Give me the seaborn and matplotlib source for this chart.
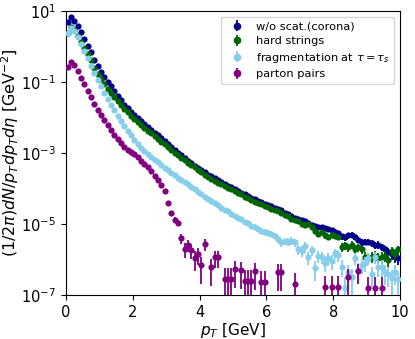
import numpy as np
import pandas as pd
import matplotlib
matplotlib.use("Agg")
import matplotlib.pyplot as plt
import matplotlib.ticker as mticker
import seaborn as sns

# ---------------- data (log10 of the yield) ----------------
pt_bins = [round(0.05 + 0.1 * i, 2) for i in range(100)]  # bin centres [GeV]

log_corona = [0.69, 0.83, 0.72, 0.57, 0.40, 0.21, 0.01, -0.17, -0.38, -0.56,
              -0.71, -0.86, -1.00, -1.13, -1.27, -1.40, -1.52, -1.64, -1.74, -1.85,
              -1.94, -2.03, -2.11, -2.19, -2.27, -2.35, -2.43, -2.51, -2.58, -2.66,
              -2.76, -2.84, -2.92, -2.99, -3.07, -3.14, -3.22, -3.29, -3.36, -3.43,
              -3.49, -3.55, -3.61, -3.66, -3.72, -3.77, -3.82, -3.87, -3.92, -3.97,
              -4.02, -4.07, -4.12, -4.16, -4.21, -4.26, -4.31, -4.35, -4.39, -4.43,
              -4.47, -4.50, -4.55, -4.58, -4.62, -4.68, -4.72, -4.78, -4.82, -4.86,
              -4.90, -4.93, -4.97, -5.02, -5.06, -5.08, -5.10, -5.12, -5.15, -5.18,
              -5.22, -5.26, -5.35, -5.38, -5.32, -5.30, -5.36, -5.45, -5.52, -5.50,
              -5.50, -5.55, -5.60, -5.58, -5.65, -5.72, -5.80, -5.85, -5.92, -5.97]

log_hard = [0.38, 0.55, 0.46, 0.30, 0.13, -0.04, -0.21, -0.39, -0.60, -0.77,
            -0.92, -1.06, -1.19, -1.31, -1.43, -1.55, -1.66, -1.76, -1.86, -1.96,
            -2.05, -2.14, -2.22, -2.30, -2.38, -2.45, -2.53, -2.61, -2.68, -2.75,
            -2.84, -2.92, -2.99, -3.07, -3.14, -3.21, -3.28, -3.34, -3.41, -3.48,
            -3.55, -3.61, -3.67, -3.73, -3.78, -3.84, -3.88, -3.94, -3.98, -4.03,
            -4.08, -4.13, -4.17, -4.23, -4.27, -4.32, -4.37, -4.42, -4.44, -4.49,
            -4.53, -4.57, -4.62, -4.64, -4.68, -4.74, -4.79, -4.85, -4.89, -4.92,
            -5.00, -5.04, -5.01, -5.08, -5.20, -5.28, -5.24, -5.32, -5.37, -5.30,
            -5.34, -5.36, -5.65, -5.60, -5.66, -5.58, -5.70, -5.66, -5.72, -5.93,
            -5.95, -5.92, -5.90, -5.95, -5.93, -5.90, -6.02, -5.75, -5.85, -5.72]

log_frag = [0.38, 0.52, 0.42, 0.25, 0.07, -0.12, -0.33, -0.54, -0.75, -0.95,
            -1.13, -1.32, -1.49, -1.64, -1.80, -1.96, -2.10, -2.24, -2.38, -2.51,
            -2.63, -2.74, -2.85, -2.94, -3.03, -3.11, -3.19, -3.27, -3.34, -3.42,
            -3.49, -3.56, -3.63, -3.70, -3.76, -3.83, -3.89, -3.96, -4.03, -4.10,
            -4.17, -4.24, -4.30, -4.36, -4.42, -4.47, -4.55, -4.62, -4.65, -4.72,
            -4.78, -4.83, -4.87, -4.95, -4.98, -5.05, -5.08, -5.15, -5.20, -5.22,
            -5.25, -5.28, -5.33, -5.42, -5.52, -5.48, -5.50, -5.47, -5.52, -5.70,
            -5.75, -5.62, -5.93, -5.73, -6.24, -5.90, -5.93, -6.10, -5.96, -6.05,
            -5.82, -5.87, -6.20, -6.80, -6.35, -6.50, -5.96, -6.30, -6.15, -6.10,
            -5.96, -6.40, -5.93, -6.20, -6.20, -6.35, -6.40, -6.52, -6.35, -6.55]

pt_pairs = [0.05, 0.15, 0.25, 0.35, 0.45, 0.55, 0.65, 0.75, 0.85, 0.95,
            1.05, 1.15, 1.25, 1.35, 1.45, 1.55, 1.65, 1.75, 1.85, 1.95,
            2.05, 2.15, 2.25, 2.35, 2.45, 2.55, 2.65, 2.75, 2.85, 2.95,
            3.05, 3.15, 3.25, 3.35, 3.45, 3.55, 3.65, 3.75, 3.85, 3.95,
            4.05, 4.15, 4.35, 4.45, 4.55, 4.75, 4.85, 4.95, 5.05, 5.25,
            5.35, 5.45, 5.55, 5.65, 5.85, 5.95, 6.35, 6.45, 6.85, 7.75,
            7.95, 8.15, 8.45, 8.75, 9.05, 9.25, 9.45]
log_pairs = [-0.58, -0.44, -0.52, -0.70, -0.88, -1.06, -1.25, -1.44, -1.62, -1.78,
             -1.93, -2.07, -2.21, -2.35, -2.49, -2.61, -2.73, -2.83, -2.92, -2.98,
             -3.04, -3.12, -3.22, -3.30, -3.40, -3.52, -3.64, -3.76, -3.90, -4.07,
             -4.41, -4.69, -4.88, -4.97, -5.40, -5.70, -5.59, -5.73, -5.96, -5.85,
             -6.16, -5.57, -6.21, -5.93, -5.93, -6.55, -6.55, -6.55, -6.27, -6.30,
             -6.61, -6.61, -6.61, -6.32, -6.63, -6.63, -6.35, -6.35, -6.69, -6.77,
             -6.77, -6.77, -6.49, -6.32, -6.80, -6.80, -6.80]

labels = ["w/o scat.(corona)", "hard strings",
          r"fragmentation at $\tau=\tau_s$", "parton pairs"]
colors = ["#00008b", "#006400", "#87ceeb", "#800080"]
y_ticks = [1e1, 1e-1, 1e-3, 1e-5, 1e-7]
x_ticks = [0, 2, 4, 6, 8, 10]

# yield of one entry in a bin at pT (sets the statistical error bars)
one_count_log = -5.87

series = [(pt_bins, log_corona), (pt_bins, log_hard),
          (pt_bins, log_frag), (pt_pairs, log_pairs)]

frames = []
for (xs, ls), lab in zip(series, labels):
    x = np.asarray(xs, float)
    y = 10.0 ** np.asarray(ls, float)
    n = np.maximum(1, np.round(y * x / 10.0 ** one_count_log))
    err = y / np.sqrt(n)
    frames.append(pd.DataFrame({"pT": x, "val": y, "err": err, "series": lab}))
df = pd.concat(frames, ignore_index=True)

# ---------------- plot ----------------
fig = plt.figure(figsize=(4.15, 3.39), dpi=100)
ax = fig.add_axes([0.159, 0.130, 0.805, 0.838])

handles = []
for i, (lab, col) in enumerate(zip(labels, colors)):
    d = df[df["series"] == lab]
    lower = np.minimum(d["err"].values, d["val"].values * (1 - 1e-9))
    ax.errorbar(d["pT"], d["val"], yerr=[lower, d["err"].values], fmt="none",
                ecolor=col, elinewidth=1.3, zorder=2 + 2 * i)
    sns.scatterplot(data=d, x="pT", y="val", color=col, s=20, linewidth=0,
                    ax=ax, zorder=3 + 2 * i, legend=False)
    h = ax.errorbar([np.nan], [np.nan], yerr=[1.0], fmt="o", color=col,
                    ms=4.5, elinewidth=1.3)
    handles.append(h)

ax.set_yscale("log")
ax.set_xlim(0, 10)
ax.set_ylim(1e-7, 10)
ax.set_xticks(x_ticks)
ax.yaxis.set_major_locator(mticker.FixedLocator(y_ticks))
ax.yaxis.set_minor_locator(mticker.NullLocator())
ax.yaxis.set_major_formatter(mticker.LogFormatterMathtext())
ax.tick_params(labelsize=10.5)
ax.set_xlabel(r"$p_T$ [GeV]", fontsize=11, labelpad=1)
ax.set_ylabel(r"$(1/2\pi) dN/p_T dp_T d\eta$ [GeV$^{-2}$]", fontsize=11.5,
              labelpad=0)
ax.legend(handles, labels, loc="upper right", fontsize=8.2, frameon=True,
          labelspacing=0.4, borderpad=0.45, handletextpad=0.6)

fig.savefig("out.png", dpi=100)
